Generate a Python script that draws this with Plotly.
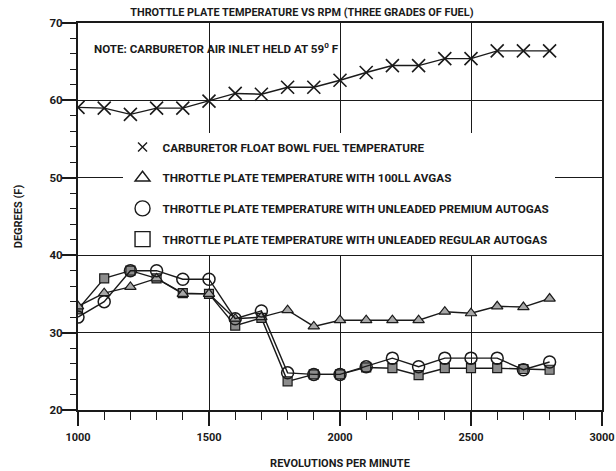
import plotly.graph_objects as go

rpm = [1000, 1100, 1200, 1300, 1400, 1500, 1600, 1700, 1800, 1900,
       2000, 2100, 2200, 2300, 2400, 2500, 2600, 2700, 2800]
carb_float_bowl = [59.1, 59.0, 58.2, 59.0, 59.0, 59.9, 60.9, 60.8, 61.7, 61.7,
                   62.6, 63.6, 64.5, 64.5, 65.4, 65.4, 66.4, 66.4, 66.4]
avgas_100ll = [33.4, 35.1, 35.9, 37.0, 35.0, 35.0, 31.8, 32.0, 32.9, 30.8,
               31.6, 31.6, 31.6, 31.6, 32.7, 32.5, 33.4, 33.3, 34.4]
unleaded_premium = [32.0, 34.0, 38.0, 38.0, 36.9, 36.9, 31.8, 32.8, 24.8, 24.6,
                    24.6, 25.6, 26.7, 25.6, 26.7, 26.7, 26.7, 25.2, 26.2]
unleaded_regular = [33.0, 37.0, 38.0, 37.0, 35.1, 35.0, 30.9, 31.9, 23.7, 24.6,
                    24.6, 25.5, 25.4, 24.5, 25.4, 25.4, 25.4, 25.3, 25.2]

legend_names = [
    "CARBURETOR FLOAT BOWL FUEL TEMPERATURE",
    "THROTTLE PLATE TEMPERATURE WITH 100LL AVGAS",
    "THROTTLE PLATE TEMPERATURE WITH UNLEADED PREMIUM AUTOGAS",
    "THROTTLE PLATE TEMPERATURE WITH UNLEADED REGULAR AUTOGAS",
]
title_text = "THROTTLE PLATE TEMPERATURE VS RPM (THREE GRADES OF FUEL)"
note_text = "NOTE: CARBURETOR AIR INLET HELD AT 59<sup>0</sup> F"
x_title = "REVOLUTIONS PER MINUTE"
y_title = "DEGREES (F)"

FONT = "Roboto, Liberation Sans, sans-serif"
INK = "#1a1a1a"

fig = go.Figure()

# data traces (no legend)
fig.add_trace(go.Scatter(
    x=rpm, y=unleaded_regular, mode="lines+markers", showlegend=False,
    line=dict(color=INK, width=1.4),
    marker=dict(symbol="square", size=9, color="#8c8c8c", line=dict(color=INK, width=1.2))))
fig.add_trace(go.Scatter(
    x=rpm, y=avgas_100ll, mode="lines+markers", showlegend=False,
    line=dict(color=INK, width=1.4),
    marker=dict(symbol="triangle-up", size=10, color="#a8a8a8", line=dict(color=INK, width=1.2))))
fig.add_trace(go.Scatter(
    x=rpm, y=unleaded_premium, mode="lines+markers", showlegend=False,
    line=dict(color=INK, width=1.4),
    marker=dict(symbol="circle-open", size=12, color=INK, line=dict(color=INK, width=1.5))))
fig.add_trace(go.Scatter(
    x=rpm, y=carb_float_bowl, mode="lines+markers", showlegend=False,
    line=dict(color=INK, width=1.4),
    marker=dict(symbol="x-thin-open", size=13, color=INK, line=dict(color=INK, width=1.6))))

# legend-only entries (symbols only, like the original key)
legend_symbols = ["x-thin-open", "triangle-up-open", "circle-open", "square-open"]
legend_sizes = [9, 13, 15, 15]
for i, (nm, sym, sz) in enumerate(zip(legend_names, legend_symbols, legend_sizes)):
    fig.add_trace(go.Scatter(
        x=[None], y=[None], mode="markers", name=nm, legendgroup=f"g{i}",
        marker=dict(symbol=sym, size=sz, color=INK, line=dict(color=INK, width=1.4))))

fig.update_layout(
    width=616, height=471,
    margin=dict(l=78, r=14, t=23, b=61, autoexpand=False),
    paper_bgcolor="white", plot_bgcolor="white",
    font=dict(family=FONT, size=11, color=INK, weight="bold"),
    title=dict(text=title_text, x=0.49, xanchor="center", y=0.975, yanchor="middle",
               font=dict(family=FONT, size=10.9, color=INK, weight="bold")),
    showlegend=True,
    legend=dict(
        x=0.085, xanchor="left", y=0.717, yanchor="top",
        bgcolor="white", borderwidth=0,
        font=dict(family=FONT, size=11.7, color=INK, weight="bold"),
        traceorder="grouped", tracegroupgap=11.7, itemsizing="trace",
    ),
    xaxis=dict(
        range=[1000, 3000], dtick=500, tick0=1000,
        showgrid=True, gridcolor=INK, gridwidth=1.3,
        showline=True, linecolor=INK, linewidth=2, mirror=True,
        ticks="outside", ticklen=14, tickwidth=1.5, tickcolor=INK,
        ticklabelstandoff=2,
        minor=dict(dtick=100, ticks="outside", ticklen=8, tickwidth=1.3, tickcolor=INK, showgrid=False),
        zeroline=False,
        tickfont=dict(family=FONT, size=11, color=INK, weight="bold"),
        title=dict(text=x_title, standoff=16, font=dict(family=FONT, size=11, color=INK, weight="bold")),
    ),
    yaxis=dict(
        range=[20, 70], dtick=10, tick0=20,
        showgrid=True, gridcolor=INK, gridwidth=1.3,
        showline=True, linecolor=INK, linewidth=2, mirror=True,
        ticks="outside", ticklen=14, tickwidth=1.5, tickcolor=INK,
        ticklabelstandoff=-3,
        minor=dict(dtick=2, ticks="outside", ticklen=6, tickwidth=1.3, tickcolor=INK, showgrid=False),
        zeroline=False,
        tickfont=dict(family=FONT, size=11.5, color=INK, weight="bold"),
        title=dict(text=y_title, standoff=25, font=dict(family=FONT, size=11, color=INK, weight="bold")),
    ),
    annotations=[dict(
        text=note_text, xref="paper", yref="paper", x=0.027, y=0.935,
        xanchor="left", yanchor="middle", showarrow=False,
        font=dict(family=FONT, size=11.6, color=INK, weight="bold"))],
)

fig.write_html(
    "out.html",
    config={"displayModeBar": False},
    post_script="document.body.style.margin='0';document.body.style.overflow='hidden';",
)
